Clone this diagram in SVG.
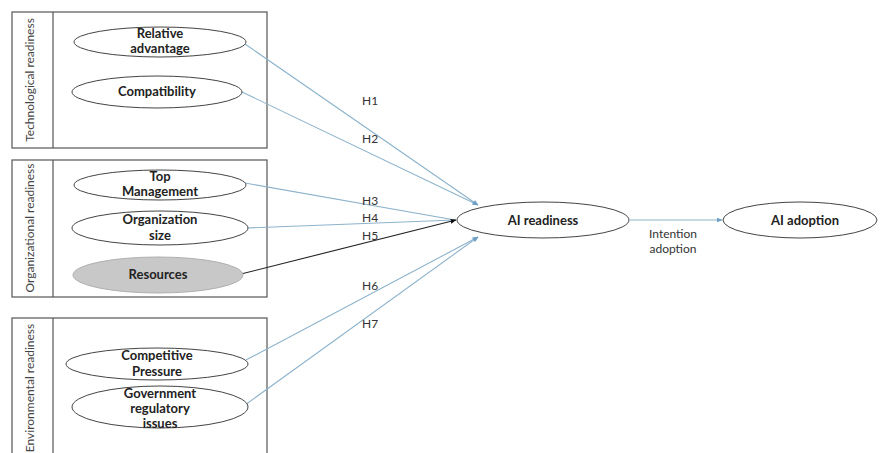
<svg xmlns="http://www.w3.org/2000/svg" width="880" height="453" viewBox="0 0 880 453">
<style>
.box{fill:none;stroke:#555;stroke-width:1.2}
.node{fill:#fff;stroke:#444;stroke-width:1}
.gray{fill:#c8c8c8;stroke:#b0b0b0;stroke-width:1}
.lbl{font-family:Lato,"Liberation Sans",sans-serif;font-weight:bold;font-size:13px;fill:#222;text-anchor:middle}
.grp{font-family:Lato,"Liberation Sans",sans-serif;font-size:12px;fill:#444;text-anchor:middle}
.h{font-family:Lato,"Liberation Sans",sans-serif;font-size:12px;fill:#333}
.blue{stroke:#8db3cb;stroke-width:1.1;fill:none}
.dark{stroke:#222;stroke-width:1.1;fill:none}
</style>
<defs>
<marker id="ab" viewBox="0 0 10 10" refX="9" refY="5" markerWidth="6" markerHeight="6" orient="auto" markerUnits="userSpaceOnUse"><path d="M0,1 L10,5 L0,9 z" fill="#6f9fc4"/></marker>
<marker id="ak" viewBox="0 0 10 10" refX="9" refY="5" markerWidth="6" markerHeight="6" orient="auto" markerUnits="userSpaceOnUse"><path d="M0,1 L10,5 L0,9 z" fill="#111"/></marker>
</defs>
<rect width="880" height="453" fill="#fff"/>

<g id="tech-group">
<rect class="box" x="12" y="12" width="255" height="136"/>
<line class="box" x1="53" y1="12" x2="53" y2="148"/>
<text class="grp" transform="translate(34,80) rotate(-90)">Technological readiness</text>
</g>
<g id="org-group">
<rect class="box" x="12" y="160" width="255" height="137"/>
<line class="box" x1="53" y1="160" x2="53" y2="297"/>
<text class="grp" transform="translate(34,228) rotate(-90)">Organizational readiness</text>
</g>
<g id="env-group">
<rect class="box" x="12" y="318" width="255" height="150"/>
<line class="box" x1="53" y1="318" x2="53" y2="468"/>
<text class="grp" transform="translate(34,388) rotate(-90)">Environmental readiness</text>
</g>

<g id="connectors">
<line class="blue" x1="245" y1="44" x2="478" y2="205" marker-end="url(#ab)"/>
<line class="blue" x1="242" y1="92" x2="478" y2="205" marker-end="url(#ab)"/>
<line class="blue" x1="245" y1="183" x2="455" y2="220"/>
<line class="blue" x1="247" y1="228" x2="455" y2="220"/>
<line class="dark" x1="241" y1="274" x2="456" y2="220" marker-end="url(#ak)"/>
<line class="blue" x1="246" y1="360" x2="478" y2="237" marker-end="url(#ab)"/>
<line class="blue" x1="245" y1="405" x2="478" y2="237" marker-end="url(#ab)"/>
<line class="blue" x1="630" y1="220" x2="722" y2="220" marker-end="url(#ab)"/>
<text class="h" x="362" y="105">H1</text>
<text class="h" x="362" y="143">H2</text>
<text class="h" x="362" y="205">H3</text>
<text class="h" x="362" y="222">H4</text>
<text class="h" x="362" y="240">H5</text>
<text class="h" x="362" y="290">H6</text>
<text class="h" x="362" y="328">H7</text>
<text class="h" x="673" y="238" text-anchor="middle">Intention</text>
<text class="h" x="673" y="253" text-anchor="middle">adoption</text>
</g>

<g id="relative-advantage">
<ellipse class="node" cx="160" cy="42" rx="86" ry="15"/>
<text class="lbl" x="160" y="38">Relative</text>
<text class="lbl" x="160" y="53">advantage</text>
</g>
<g id="compatibility">
<ellipse class="node" cx="157" cy="92" rx="85" ry="16"/>
<text class="lbl" x="157" y="96">Compatibility</text>
</g>
<g id="top-management">
<ellipse class="node" cx="160" cy="185" rx="86" ry="15"/>
<text class="lbl" x="160" y="181">Top</text>
<text class="lbl" x="160" y="196">Management</text>
</g>
<g id="organization-size">
<ellipse class="node" cx="160" cy="228" rx="88" ry="17"/>
<text class="lbl" x="160" y="224">Organization</text>
<text class="lbl" x="160" y="240">size</text>
</g>
<g id="resources">
<ellipse class="gray" cx="158" cy="275" rx="85" ry="18"/>
<text class="lbl" x="158" y="279">Resources</text>
</g>
<g id="competitive-pressure">
<ellipse class="node" cx="157" cy="364" rx="91" ry="16"/>
<text class="lbl" x="157" y="360">Competitive</text>
<text class="lbl" x="157" y="376">Pressure</text>
</g>
<g id="government-regulatory">
<ellipse class="node" cx="160" cy="407" rx="88" ry="21"/>
<text class="lbl" x="160" y="398">Government</text>
<text class="lbl" x="160" y="413">regulatory</text>
<text class="lbl" x="160" y="428">issues</text>
</g>
<g id="ai-readiness">
<ellipse class="node" cx="543" cy="220" rx="86" ry="18"/>
<text class="lbl" x="543" y="225">AI readiness</text>
</g>
<g id="ai-adoption">
<ellipse class="node" cx="800" cy="220" rx="77" ry="18"/>
<text class="lbl" x="805" y="225">AI adoption</text>
</g>
</svg>
